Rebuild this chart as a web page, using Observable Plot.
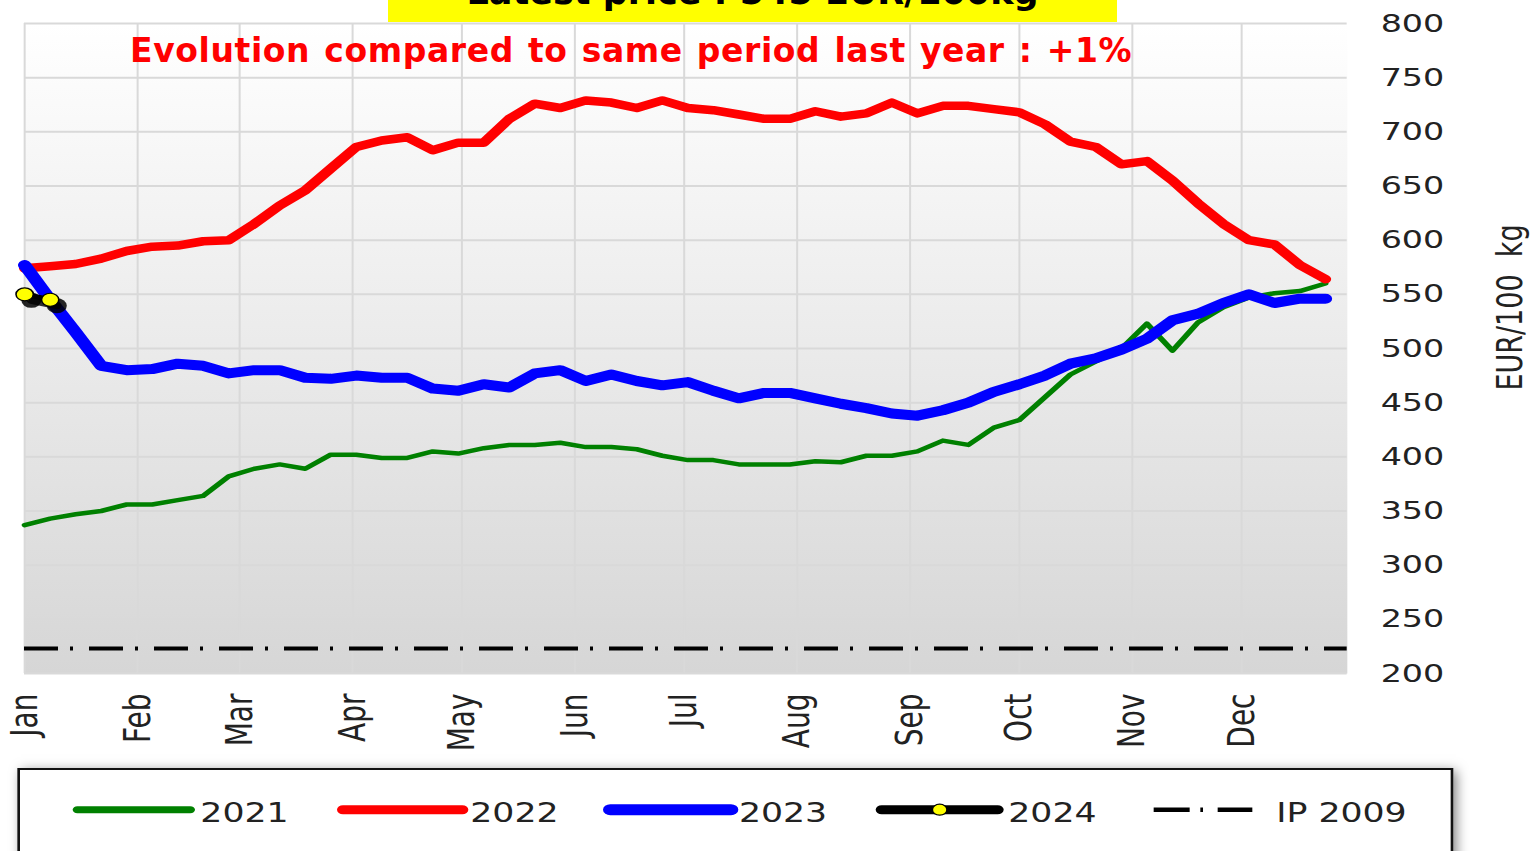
<!DOCTYPE html>
<html><head><meta charset="utf-8">
<script src="https://cdn.jsdelivr.net/npm/d3@7"></script>
<script src="https://cdn.jsdelivr.net/npm/@observablehq/plot@0.6"></script>
<style>
html,body{margin:0;padding:0;background:#fff;overflow:hidden;width:1536px;height:851px;}
#stage{position:relative;width:1536px;height:851px;overflow:hidden;}
#wrap{position:absolute;left:0;top:0;width:1152px;height:900px;transform:scaleX(1.33333);transform-origin:0 0;}
#legend{position:absolute;left:12.75px;top:768px;width:1077px;height:120px;border:2px solid #111;box-sizing:border-box;background:#fff;box-shadow:3px 3px 10px rgba(0,0,0,0.5);}
#legend svg{position:absolute;left:-2px;top:-2px;}
#latest{position:absolute;left:388px;top:0;width:729px;height:22px;background:#ffff00;overflow:hidden;z-index:2;}
#latest span{position:absolute;left:0;right:0;top:-25px;text-align:center;font:bold 35px/35px "DejaVu Sans",Verdana,sans-serif;color:#000;white-space:nowrap;}
#evo{position:absolute;left:130px;top:34px;font:bold 33px/33px "DejaVu Sans",Verdana,sans-serif;letter-spacing:0.6px;word-spacing:2px;color:#ff0000;white-space:nowrap;z-index:2;}
</style></head>
<body>
<div id="stage">
  <div id="wrap"><div id="chart"></div><div id="legend"></div></div>
  <div id="latest"><span>Latest price : 545 EUR/100kg</span></div>
  <div id="evo">Evolution compared to same period last year : +1%</div>
</div>
<script>
// ---------- data ----------
const weeks = d3.range(1, 53);
const monthLabels = ["Jan","Feb","Mar","Apr","May","Jun","Jul","Aug","Sep","Oct","Nov","Dec"];
const monthStartDays = [0,31,59,90,120,151,181,212,243,273,304,334];
const yTicks = d3.range(200, 801, 50);
const yTitle = "EUR/100\u00a0 kg";

const prices2021 = [337,343,347,350,356,356,360,364,382,389,393,389,402,402,399,399,405,403,408,411,411,413,409,409,407,401,397,397,393,393,393,396,395,401,401,405,415,411,427,434,455,476,488,500,523,498,524,538,547,551,553,560];
const prices2022 = [574,576,578,583,590,594,595,599,600,615,632,646,666,686,692,695,683,690,690,712,726,722,729,727,722,729,722,720,716,712,712,719,714,717,727,717,724,724,721,718,707,691,686,670,673,655,634,615,600,596,577,564];
const prices2023 = [577,545,515,484,480,481,486,484,477,480,480,473,472,475,473,473,463,461,467,464,477,480,470,476,470,466,469,461,454,459,459,454,449,445,440,438,443,450,460,467,475,486,491,499,509,526,532,542,550,542,546,546];
const weeks2024 = [1, 2];
const prices2024 = [550, 545];
const ip2009 = 223;

const seriesNames = ["2021","2022","2023","2024","IP 2009"];
const seriesColors = ["#008000","#ff0000","#0000ff","#000000","#000000"];

const dayOfWeek = w => (w - 1) * 7;
const toRows = (wk, vals) => vals.map((v, i) => ({day: dayOfWeek(wk[i]), price: v}));
const rows2021 = toRows(weeks, prices2021);
const rows2022 = toRows(weeks, prices2022);
const rows2023 = toRows(weeks, prices2023);
const rows2024 = toRows(weeks2024, prices2024);

// ---------- chart ----------
const chart = Plot.plot({
  width: 1152, height: 766,
  marginLeft: 18, marginRight: 142, marginTop: 23, marginBottom: 93,
  style: {fontFamily: '"DejaVu Sans", Verdana, sans-serif', background: "transparent", color: "#222"},
  x: {domain: [0, 363]},
  y: {domain: [200, 800]},
  marks: [
    Plot.frame({fill: "url(#bgGrad)", stroke: "none"}),
    Plot.gridY(yTicks, {stroke: "#d9d9d9", strokeOpacity: 1, strokeWidth: 2}),
    Plot.gridX(monthStartDays, {stroke: "#d9d9d9", strokeOpacity: 1, strokeWidth: 1.5}),
    Plot.ruleY([ip2009], {stroke: "#000", strokeWidth: 4, strokeDasharray: "25.5,9,2.25,12"}),
    Plot.line(rows2021, {x: "day", y: "price", stroke: seriesColors[0], strokeWidth: 4.5, strokeLinejoin: "round", strokeLinecap: "round"}),
    Plot.line(rows2022, {x: "day", y: "price", stroke: seriesColors[1], strokeWidth: 8.5, strokeLinejoin: "round", strokeLinecap: "round"}),
    Plot.line(rows2023, {x: "day", y: "price", stroke: seriesColors[2], strokeWidth: 10, strokeLinejoin: "round", strokeLinecap: "round"}),
    Plot.line(rows2024, {x: "day", y: "price", stroke: "#000", strokeWidth: 7, dx: 5, dy: 6, strokeOpacity: 0.8}),
    Plot.dot(rows2024, {x: "day", y: "price", r: 7.5, fill: "#000", stroke: "none", dx: 5, dy: 6, fillOpacity: 0.85}),
    Plot.line(rows2024, {x: "day", y: "price", stroke: seriesColors[3], strokeWidth: 5}),
    Plot.dot(rows2024, {x: "day", y: "price", r: 6.5, fill: "#ffff00", stroke: "#000", strokeWidth: 1.2}),
    Plot.axisX(monthStartDays, {anchor: "bottom", tickSize: 0, tickPadding: 20, tickRotate: -90, fontSize: 28,
      tickFormat: d => monthLabels[monthStartDays.indexOf(d)], label: null}),
    Plot.axisY(yTicks, {anchor: "right", tickSize: 0, tickPadding: 25, fontSize: 25, label: null}),
    Plot.text([yTitle], {frameAnchor: "right", textAnchor: "middle", dx: 122.5, dy: -41, rotate: -90, fontSize: 27, fill: "#222"})
  ]
});
document.getElementById("chart").appendChild(chart);

const defs = d3.select(chart).insert("defs", ":first-child");
const grad = defs.append("linearGradient").attr("id", "bgGrad")
  .attr("x1", 0).attr("y1", 0).attr("x2", 0).attr("y2", 1);
grad.append("stop").attr("offset", "0%").attr("stop-color", "#ffffff");
grad.append("stop").attr("offset", "100%").attr("stop-color", "#d6d6d6");

// ---------- legend ----------
const legendLayout = [
  {x0: 45, x1: 129.75, tx: 137.25, w: 7},
  {x0: 244.25, x1: 333.75, tx: 339.75, w: 9},
  {x0: 444.75, x1: 535.25, tx: 541.25, w: 11},
  {x0: 648.25, x1: 735.25, tx: 743.25, w: 9},
  {x0: 852.25, x1: 926.25, tx: 944.25, w: 4.5}
];
const lsvg = d3.select("#legend").append("svg").attr("width", 1077).attr("height", 120)
  .style("font-family", '"DejaVu Sans", Verdana, sans-serif');
seriesNames.forEach((name, i) => {
  const L = legendLayout[i];
  const ln = lsvg.append("line").attr("x1", L.x0).attr("x2", L.x1).attr("y1", 41.7).attr("y2", 41.7)
    .attr("stroke", seriesColors[i]).attr("stroke-width", L.w);
  if (i < 4) ln.attr("stroke-linecap", "round");
  if (i === 4) ln.attr("stroke-dasharray", "27,8,2,11");
  if (i === 3) lsvg.append("circle").attr("cx", (L.x0 + L.x1) / 2).attr("cy", 41.7).attr("r", 5.5)
    .attr("fill", "#ffff00").attr("stroke", "#000").attr("stroke-width", 1.2);
  lsvg.append("text").attr("x", L.tx).attr("y", 53.7).attr("font-size", 26).attr("fill", "#222").text(name);
});
</script>
</body></html>
